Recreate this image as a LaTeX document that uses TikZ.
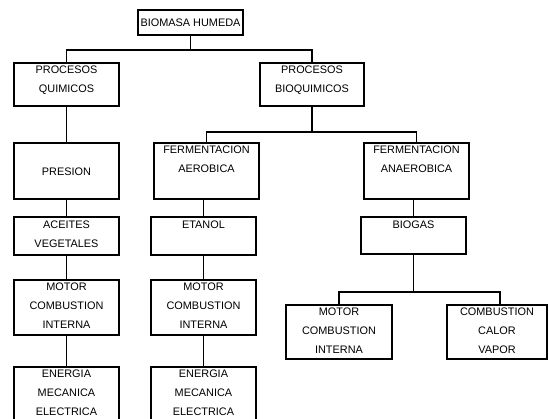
\documentclass[tikz,border=0pt]{standalone}
\usepackage{fontspec}
\setmainfont{Liberation Sans}
\begin{document}
\begin{tikzpicture}[x=1pt,y=-1pt,
  box/.style={draw=black,line width=1.8pt,inner sep=0pt,rectangle},
  txt/.style={inner sep=0pt,align=center,anchor=north,font=\fontsize{10.9}{19}\selectfont},
  conn/.style={draw=black,line width=1.1pt}]
\useasboundingbox (0,0) rectangle (549,418);
\clip (0,0) rectangle (549,418);
\newcommand\mkbox[5]{\node[box,minimum width=#4-#2,minimum height=#5-#3] (#1) at ({(#2+#4)/2},{(#3+#5)/2}) {};}
\mkbox{bh}{138}{10}{243}{35}
\mkbox{pq}{14}{63}{119}{106}
\mkbox{pb}{260}{63}{364}{106}
\mkbox{pres}{14}{143}{119}{199}
\mkbox{fa}{154}{143}{259}{199}
\mkbox{fan}{364}{143}{469}{199}
\mkbox{av}{14}{217}{119}{255}
\mkbox{et}{151}{217}{256}{255}
\mkbox{bg}{361}{217}{466}{254}
\mkbox{ma}{14}{280}{119}{335}
\mkbox{mb}{151}{280}{256}{335}
\mkbox{mc}{286}{305}{392}{359}
\mkbox{ccv}{447}{305}{547}{359}
\mkbox{ea}{14}{367}{119}{440}
\mkbox{eb}{151}{367}{256}{440}
% texts
\node[txt,anchor=center] (bh-t) at (bh.center) {BIOMASA HUMEDA};
\node[txt] (pq-t) at ([yshift=-3.6]pq.north) {PROCESOS\\QUIMICOS};
\node[txt] (pb-t) at ([yshift=-3.6]pb.north) {PROCESOS\\BIOQUIMICOS};
\node[txt,anchor=center] (pres-t) at ([yshift=-1]pres.center) {PRESION};
\node[txt] (fa-t) at ([yshift=-3.6]fa.north) {FERMENTACION\\AEROBICA};
\node[txt] (fan-t) at ([yshift=-3.6]fan.north) {FERMENTACION\\ANAEROBICA};
\node[txt] (av-t) at ([yshift=-4.3]av.north) {ACEITES\\VEGETALES};
\node[txt] (et-t) at ([yshift=-4.3]et.north) {ETANOL};
\node[txt] (bg-t) at ([yshift=-4.3]bg.north) {BIOGAS};
\node[txt] (ma-t) at ([yshift=-3.6]ma.north) {MOTOR\\COMBUSTION\\INTERNA};
\node[txt] (mb-t) at ([yshift=-3.6]mb.north) {MOTOR\\COMBUSTION\\INTERNA};
\node[txt] (mc-t) at ([yshift=-3.6]mc.north) {MOTOR\\COMBUSTION\\INTERNA};
\node[txt] (ccv-t) at ([yshift=-3.6]ccv.north) {COMBUSTION\\CALOR\\VAPOR};
\node[txt] (ea-t) at ([yshift=-3.6]ea.north) {ENERGIA\\MECANICA\\ELECTRICA};
\node[txt] (eb-t) at ([yshift=-3.6]eb.north) {ENERGIA\\MECANICA\\ELECTRICA};
% connectors
\draw[conn] (bh.south) -- (bh.south |- 0,50) -| (pq.north);
\draw[conn] (bh.south |- 0,50) -| (pb.north);
\draw[conn] (pq.south) -- (pres.north);
\draw[conn] (pres.south) -- (av.north);
\draw[conn] (av.south) -- (ma.north);
\draw[conn] (ma.south) -- (ea.north);
\draw[conn] (pb.south) -- (pb.south |- 0,132) -| (fa.north);
\draw[conn] (pb.south |- 0,132) -| (fan.north);
\draw[conn] (et.north |- fa.south) -- (et.north);
\draw[conn] (et.south) -- (mb.north);
\draw[conn] (mb.south) -- (eb.north);
\draw[conn] (bg.north |- fan.south) -- (bg.north);
\draw[conn] (bg.south) -- (bg.south |- 0,292) -| (mc.north);
\draw[conn] (bg.south |- 0,292) -| ([xshift=3]ccv.north);
\end{tikzpicture}
\end{document}
